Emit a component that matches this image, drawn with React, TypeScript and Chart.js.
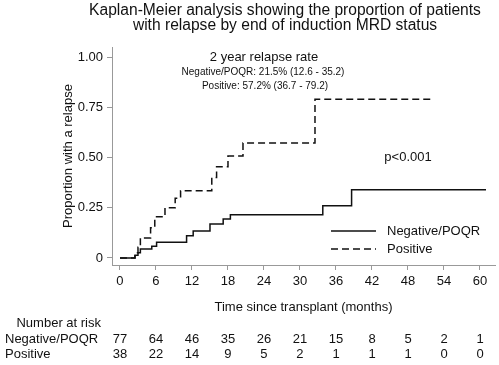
import React, { useEffect, useRef } from "react";
import { Chart, registerables } from "chart.js";

Chart.register(...registerables);

const FONT = "'Liberation Sans', Arial, sans-serif";
const TEXT = "#111";

const titleLines = [
  "Kaplan-Meier analysis showing the proportion of patients",
  "with relapse by end of induction MRD status",
];

const negTimes = [0, 2.5, 3.0, 3.4, 5.3, 6.1, 11.1, 12.2, 15.0, 17.2, 18.4, 33.8, 38.6, 61.0];
const negValues = [0, 0.013, 0.026, 0.045, 0.058, 0.078, 0.11, 0.134, 0.169, 0.194, 0.215, 0.26, 0.34, 0.34];

const posTimes = [0, 2.5, 3.0, 3.4, 5.1, 5.8, 7.5, 9.2, 10.1, 15.3, 16.1, 18.0, 20.5, 32.5, 52.0];
const posValues = [0, 0.026, 0.053, 0.1, 0.15, 0.205, 0.25, 0.297, 0.335, 0.4, 0.454, 0.507, 0.572, 0.79, 0.79];

const xTicks = [0, 6, 12, 18, 24, 30, 36, 42, 48, 54, 60];
const yTicks = [0, 0.25, 0.5, 0.75, 1];
const yTickLabels = ["0", "0.25", "0.50", "0.75", "1.00"];

const seriesNames = ["Negative/POQR", "Positive"];
const riskNegative = [77, 64, 46, 35, 26, 21, 15, 8, 5, 2, 1];
const riskPositive = [38, 22, 14, 9, 5, 2, 1, 1, 1, 0, 0];

const annotationTitle = "2 year relapse rate";
const annotationLines = [
  "Negative/POQR: 21.5% (12.6 - 35.2)",
  "Positive: 57.2% (36.7 - 79.2)",
];
const pValueText = "p<0.001";
const xTitle = "Time since transplant (months)";
const yTitle = "Proportion with a relapse";
const riskTitle = "Number at risk";

const DASH = [7, 4];

const textPlugin = {
  id: "kmText",
  afterDraw(chart: any) {
    const ctx = chart.ctx as CanvasRenderingContext2D;
    const xs = chart.scales.x;
    const area = chart.chartArea;
    ctx.save();
    ctx.fillStyle = TEXT;
    ctx.textBaseline = "middle";

    // Title
    ctx.textAlign = "center";
    ctx.font = `15.6px ${FONT}`;
    ctx.fillText(titleLines[0], 285, 11);
    ctx.fillText(titleLines[1], 285, 26);

    // Annotation
    ctx.font = `13px ${FONT}`;
    ctx.fillText(annotationTitle, 264, 57);
    ctx.font = `10px ${FONT}`;
    ctx.fillText(annotationLines[0], 263, 72);
    ctx.fillText(annotationLines[1], 265, 86);

    // p-value
    ctx.font = `13px ${FONT}`;
    ctx.fillText(pValueText, 408, 157);

    // Axis titles
    ctx.fillText(xTitle, (area.left + area.right) / 2, 307);
    ctx.save();
    ctx.translate(68, (area.top + area.bottom) / 2);
    ctx.rotate(-Math.PI / 2);
    ctx.fillText(yTitle, 0, 0);
    ctx.restore();

    // Legend
    ctx.strokeStyle = "#111";
    ctx.lineWidth = 1.5;
    ctx.beginPath();
    ctx.moveTo(331, 231);
    ctx.lineTo(376, 231);
    ctx.stroke();
    ctx.setLineDash(DASH);
    ctx.beginPath();
    ctx.moveTo(331, 249);
    ctx.lineTo(376, 249);
    ctx.stroke();
    ctx.setLineDash([]);
    ctx.textAlign = "left";
    ctx.fillText(seriesNames[0], 387, 231);
    ctx.fillText(seriesNames[1], 387, 249);

    // Risk table
    ctx.textAlign = "right";
    ctx.fillText(riskTitle, 101, 323);
    ctx.textAlign = "left";
    ctx.fillText(seriesNames[0], 5, 339);
    ctx.fillText(seriesNames[1], 5, 354);
    ctx.textAlign = "center";
    xTicks.forEach((t, i) => {
      const px = xs.getPixelForValue(t);
      ctx.fillText(String(riskNegative[i]), px, 339);
      ctx.fillText(String(riskPositive[i]), px, 354);
    });
    ctx.restore();
  },
};

export default function App() {
  const ref = useRef<HTMLCanvasElement>(null);
  useEffect(() => {
    if (!ref.current) return;
    const chart = new Chart(ref.current, {
      type: "line",
      data: {
        datasets: [
          {
            label: seriesNames[0],
            data: negTimes.map((t, i) => ({ x: t, y: negValues[i] })),
            borderColor: "#111",
            borderWidth: 1.5,
            stepped: true,
            pointRadius: 0,
            fill: false,
          },
          {
            label: seriesNames[1],
            data: posTimes.map((t, i) => ({ x: t, y: posValues[i] })),
            borderColor: "#111",
            borderWidth: 1.5,
            borderDash: DASH,
            stepped: true,
            pointRadius: 0,
            fill: false,
          },
        ],
      },
      options: {
        animation: false,
        responsive: false,
        maintainAspectRatio: false,
        layout: { padding: { top: 47, right: 4, left: 0, bottom: 0 } },
        plugins: {
          legend: { display: false },
          title: { display: false },
          tooltip: { enabled: false },
        },
        scales: {
          x: {
            type: "linear",
            min: -1.33,
            max: 62.5,
            afterBuildTicks: (s: any) => {
              s.ticks = xTicks.map((v) => ({ value: v }));
            },
            afterFit: (s: any) => {
              s.height = 100;
            },
            ticks: {
              font: { family: FONT, size: 13 },
              color: TEXT,
              padding: 4,
              maxRotation: 0,
              autoSkip: false,
            },
            grid: {
              display: true,
              drawOnChartArea: false,
              drawTicks: true,
              tickLength: 5,
              color: "#999",
            },
            border: { display: true, color: "#999", width: 1 },
          },
          y: {
            type: "linear",
            min: -0.035,
            max: 1.05,
            afterBuildTicks: (s: any) => {
              s.ticks = yTicks.map((v) => ({ value: v }));
            },
            afterFit: (s: any) => {
              s.width = 112;
            },
            ticks: {
              font: { family: FONT, size: 13 },
              color: TEXT,
              padding: 4,
              callback: (_v: any, i: number) => yTickLabels[i],
            },
            grid: {
              display: true,
              drawOnChartArea: false,
              drawTicks: true,
              tickLength: 5,
              color: "#999",
            },
            border: { display: true, color: "#999", width: 1 },
          },
        },
      },
      plugins: [textPlugin],
    } as any);
    return () => chart.destroy();
  }, []);
  return (
    <div style={{ position: "fixed", left: 0, top: 0, width: 499, height: 365, background: "#fff" }}>
      <canvas ref={ref} width={499} height={365} style={{ display: "block" }} />
    </div>
  );
}
